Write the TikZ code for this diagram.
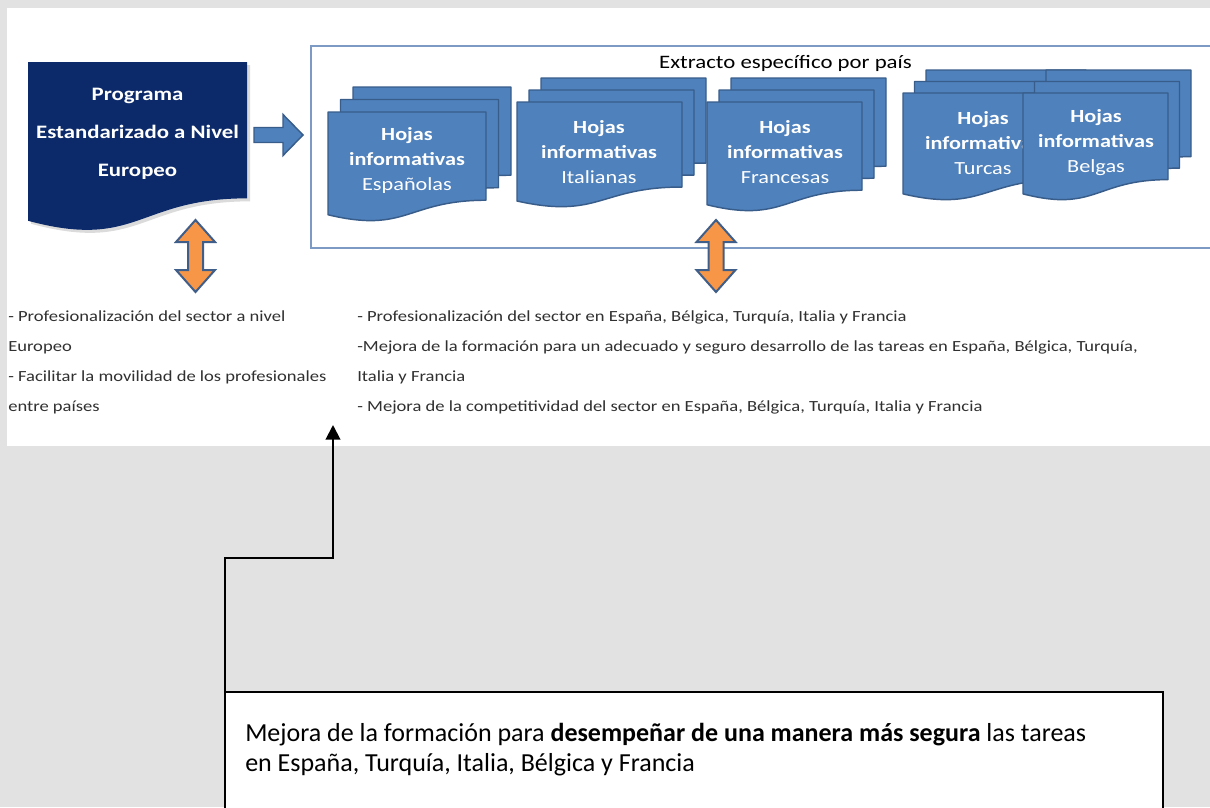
\documentclass[tikz,border=0pt]{standalone}
\usepackage{fontspec}
\setmainfont{Carlito}
\newfontfamily\widefont[FakeStretch=1.2]{Carlito}
\usetikzlibrary{arrows.meta}
\definecolor{bggray}{HTML}{E2E2E2}
\definecolor{navy}{HTML}{0C2A69}
\definecolor{sheetfill}{HTML}{4F81BD}
\definecolor{sheetline}{HTML}{385D8A}
\definecolor{framecol}{HTML}{7C9AC4}
\definecolor{orangefill}{HTML}{F79646}
\definecolor{orangeline}{HTML}{3F5F8A}
\definecolor{txtgray}{HTML}{303030}
\tikzset{
  sheet/.style={fill=sheetfill, draw=sheetline, line width=1.1pt, line join=round},
  bigdoc/.style={fill=navy, draw=none},
  shadowdoc/.style={fill=black!35, draw=none, opacity=0.4},
  blockarrow/.style={fill=sheetfill, draw=sheetline, line width=1.1pt, line join=miter},
  dblarrow/.style={fill=orangefill, draw=orangeline, line width=1.5pt, line join=miter},
  hojatxt/.style={text=white, align=center, inner sep=0pt, font=\widefont\fontsize{13.9}{18.75}\selectfont},
  bigtxt/.style={text=white, align=center, inner sep=0pt, font=\widefont\bfseries\fontsize{14.25}{28.5}\selectfont},
  smalltxt/.style={text=txtgray, align=left, inner sep=0pt, anchor=base west, font=\widefont\fontsize{11.6}{22.5}\selectfont},
  titletxt/.style={text=black, inner sep=0pt, font=\widefont\fontsize{14.25}{16}\selectfont},
  notebox/.style={draw=black, fill=white, line width=1.5pt, anchor=north west, minimum width=703.5pt, minimum height=120pt, inner sep=0pt, outer sep=0pt},
  notetxt/.style={text=black, align=left, inner sep=0pt, anchor=base west, font=\fontsize{19.5}{22.5}\selectfont},
  conn/.style={draw=black, line width=1.5pt, -{Triangle[width=11pt,length=11pt]}},
}
% document shape: #1 style, #2 x, #3 y, #4 w, #5 h
\newcommand{\docsh}[5]{%
  \draw[#1] ({#2},{#3}) -- ({#2+#4},{#3}) -- ({#2+#4},{#3+0.802*#5})
    .. controls ({#2+0.5*#4},{#3+0.802*#5}) and ({#2+0.5*#4},{#3+1.1075*#5}) ..
    ({#2},{#3+0.934*#5}) -- cycle;}
% multi document: #1 x, #2 y, #3 w, #4 h, #5 offset
\newcommand{\multidoc}[5]{%
  \docsh{sheet}{#1+2*#5}{#2-2*#5}{#3}{#4}
  \docsh{sheet}{#1+#5}{#2-#5}{#3}{#4}
  \docsh{sheet}{#1}{#2}{#3}{#4}}
% vertical double arrow centred at #1
\newcommand{\vdblarrow}[1]{%
  \draw[dblarrow] ({#1},220) -- ({#1+19.5},242) -- ({#1+7.5},242) -- ({#1+7.5},270)
    -- ({#1+19.5},270) -- ({#1},292) -- ({#1-19.5},270) -- ({#1-7.5},270)
    -- ({#1-7.5},242) -- ({#1-19.5},242) -- cycle;}
\begin{document}
\begin{tikzpicture}[x=0.75pt, y=-0.75pt]
\useasboundingbox (0,0) rectangle (1210,807);
\fill[bggray] (0,0) rectangle (1210,807);
\fill[white] (7,8) rectangle (1210,446);

% frame of the country extracts
\draw[framecol, line width=1.1pt] (311,46) rectangle (1216,248);
\node[titletxt] (title) at (785.5,63) {Extracto específico por país};

% main document
\docsh{shadowdoc}{31}{65}{219}{170}
\docsh{bigdoc}{28}{62}{219}{170}
\node[bigtxt] (prog) at (137.5,134) {Programa\\Estandarizado a Nivel\\Europeo};

% block arrow
\draw[blockarrow] (254,127.5) -- (283,127.5) -- (283,114.5) -- (303,135)
  -- (283,155.5) -- (283,142.5) -- (254,142.5) -- cycle;

% country stacks
\multidoc{328}{112}{158}{110}{12.5}
\node[hojatxt] (es) at (407,160) {\textbf{Hojas}\\\textbf{informativas}\\Españolas};
\multidoc{517}{102}{165}{106}{12}
\node[hojatxt] (it) at (599,152) {\textbf{Hojas}\\\textbf{informativas}\\Italianas};
\multidoc{707}{102}{155}{110}{12}
\node[hojatxt] (fr) at (785,152) {\textbf{Hojas}\\\textbf{informativas}\\Francesas};
\multidoc{903}{93}{160}{108}{11.5}
\node[hojatxt] (tr) at (983,143) {\textbf{Hojas}\\\textbf{informativas}\\Turcas};
\multidoc{1023}{93}{145}{108}{11.5}
\node[hojatxt] (be) at (1096,143) {\textbf{Hojas}\\\textbf{informativas}\\Belgas};

% orange double arrows
\vdblarrow{195.5}
\vdblarrow{716}

% benefit texts (anchor = baseline of the last line)
\node[smalltxt] (left) at (8,411) {- Profesionalización del sector a nivel\\Europeo\\- Facilitar la movilidad de los profesionales\\entre países};
\node[smalltxt] (right) at (357,411) {- Profesionalización del sector en España, Bélgica, Turquía, Italia y Francia\\-Mejora de la formación para un adecuado y seguro desarrollo de las tareas en España, Bélgica, Turquía,\\Italia y Francia\\- Mejora de la competitividad del sector en España, Bélgica, Turquía, Italia y Francia};

% note box
\node[notebox] (note) at (225,692) {};
\node[notetxt] (notetext) at (245,771) {Mejora de la formación para \textbf{desempeñar de una manera más segura} las tareas\\en España, Turquía, Italia, Bélgica y Francia};
\coordinate (tip) at (333,425);
\draw[conn] (note.north west) -- ++(0,-134) -| (tip);
\end{tikzpicture}
\end{document}
